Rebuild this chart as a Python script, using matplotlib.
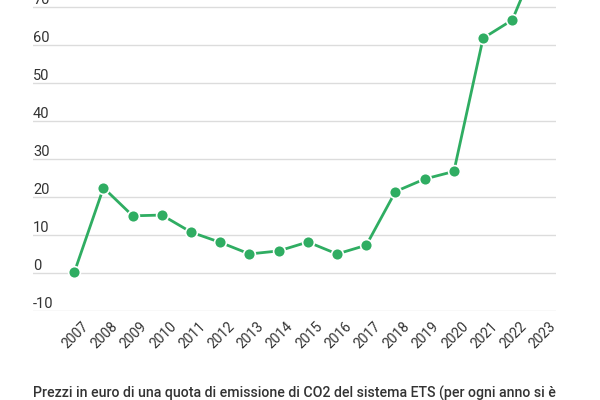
import matplotlib
matplotlib.use('Agg')
import matplotlib.pyplot as plt

plt.rcParams['font.family'] = ['Roboto', 'DejaVu Sans']

years = [2007, 2008, 2009, 2010, 2011, 2012, 2013, 2014, 2015,
         2016, 2017, 2018, 2019, 2020, 2021, 2022, 2023]
prices = [0.1, 22.4, 15.0, 15.2, 10.7, 8.0, 4.95, 5.75, 8.1,
          4.95, 7.25, 21.4, 24.7, 26.7, 61.8, 66.6, 85.0]
y_ticks = [-10, 0, 10, 20, 30, 40, 50, 60, 70]
caption = 'Prezzi in euro di una quota di emissione di CO2 del sistema ETS (per ogni anno si è'

green = '#2fad62'
grid_col = '#dcdcdc'
text_col = '#333333'

fig = plt.figure(figsize=(6, 4), dpi=100)
W, H = 600, 400
# axes placed in pixels; top runs off the figure like the cropped original
left, right = 33, 556
y_bot_px = 310.7
px_per_unit = 3.795
ymin, ymax = -10, 90
y_top_px = y_bot_px - (ymax - ymin) * px_per_unit
ax = fig.add_axes([left / W, 1 - y_bot_px / H, (right - left) / W,
                   (y_bot_px - y_top_px) / H])
ax.set_xlim(2005.586, 2023.497)
ax.set_ylim(ymin, ymax)
ax.axis('off')

for v in y_ticks:
    ax.axhline(v, color=grid_col, lw=1, zorder=1)
    ax.text(2005.586, v + 0.8, str(v), ha='left', va='baseline',
            fontsize=10.5, color=text_col)

ax.plot(years, prices, color=green, lw=2, marker='o', ms=8.5,
        markerfacecolor=green, markeredgecolor='white', markeredgewidth=1.2,
        zorder=3, clip_on=False)

for yr in years:
    ax.text(yr + 0.25, -12.2, str(yr), rotation=45, ha='right', va='top',
            rotation_mode='anchor', fontsize=10, color=text_col)

fig.text(left / W, 1 - 398 / H, caption, ha='left', va='baseline',
         fontsize=10.2, color=text_col, fontweight='medium')

fig.savefig('out.png', dpi=100)
